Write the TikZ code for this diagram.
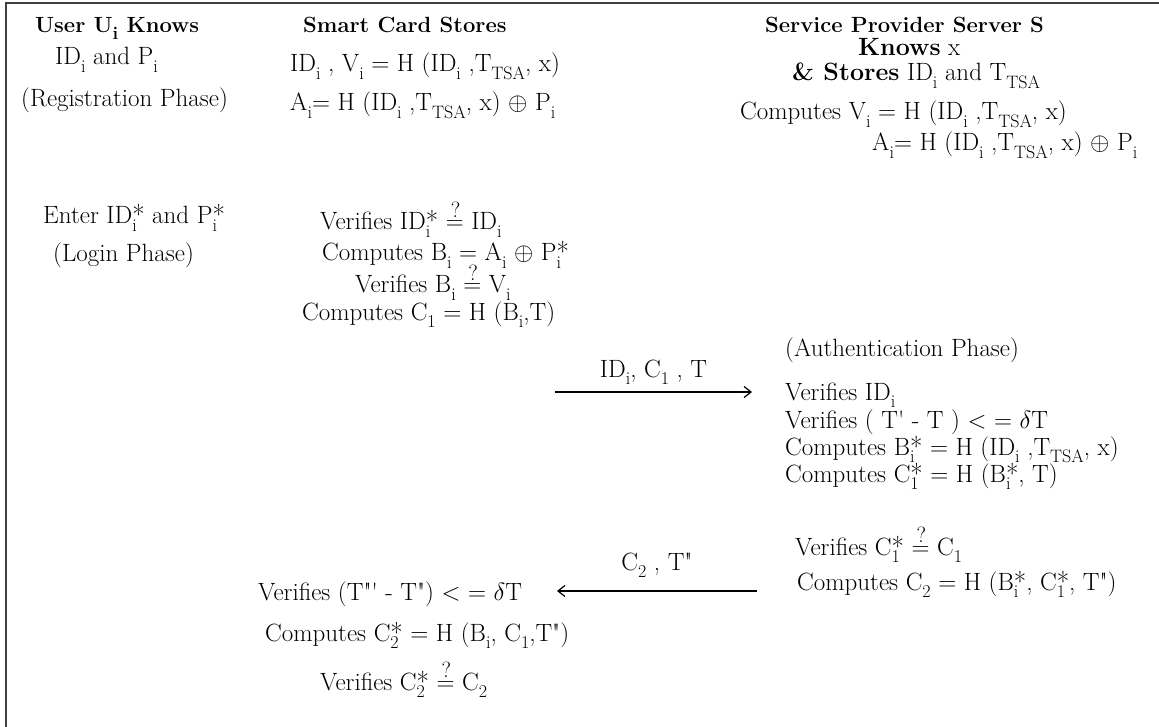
\documentclass[tikz,border=0pt]{standalone}
\usetikzlibrary{arrows.meta}
\newcommand{\sbx}[1]{\raisebox{-0.3em}{\fontsize{18}{18}\selectfont #1}}
\newcommand{\sbsp}[2]{\rlap{\raisebox{-0.3em}{\fontsize{18}{18}\selectfont #1}}\raisebox{-1pt}{\fontsize{27}{27}\selectfont #2}}
\newcommand{\qeq}{\rlap{\hbox to 0.778em{\hss\raisebox{0.5em}{\fontsize{22}{22}\selectfont ?}\hss}}$=$}
\newcommand{\pr}{\textquotesingle}
\newcommand{\dpr}{\textquotedbl}
\begin{document}
\begin{tikzpicture}[x=1pt,y=-1pt,
  txt/.style={inner sep=0pt,anchor=base west,font=\fontsize{25}{28}\selectfont},
  hd/.style={txt,font=\fontsize{22}{26}\selectfont\bfseries},
  msg/.style={line width=1.6pt,-{Straight Barb[length=7pt,width=11pt,line width=1.2pt]}},
  frame/.style={line width=2pt,draw=black!75}]
\useasboundingbox (0,0) rectangle (1159,727);
\draw[frame] (6,750) -- (6,3) -- (1170,3);
% User column
\node[hd] (u0) at (35,33) {User U\sbx{i} Knows};
\node[txt] (u1) at (55,65) {ID\sbx{i} and P\sbx{i}};
\node[txt] (u2) at (21,107) {(Registration Phase)};
\node[txt] (u3) at (43,224) {Enter ID\sbsp{i}{*} and P\sbsp{i}{*}};
\node[txt] (u4) at (53,262) {(Login Phase)};
% Smart card column
\node[hd] (s0) at (303,33) {Smart Card Stores};
\node[txt] (s1) at (290,72) {ID\sbx{i} , V\sbx{i} = H (ID\sbx{i} ,T\sbx{TSA}, x)};
\node[txt] (s2) at (290,111) {A\sbx{i}= H (ID\sbx{i} ,T\sbx{TSA}, x) $\oplus$ P\sbx{i}};
\node[txt] (s3) at (320,230) {Verifies ID\sbsp{i}{*} \qeq{} ID\sbx{i}};
\node[txt] (s4) at (322,261) {Computes B\sbx{i} = A\sbx{i} $\oplus$ P\sbsp{i}{*}};
\node[txt] (s5) at (355,293) {Verifies B\sbx{i} \qeq{} V\sbx{i}};
\node[txt] (s6) at (302,320) {Computes C\sbx{1} = H (B\sbx{i},T)};
% Server column
\node[hd] (v0) at (765,33) {Service Provider Server S};
\node[txt] (v1) at (858,56) {\textbf{Knows} x};
\node[txt] (v2) at (792,81) {\textbf{\& Stores} ID\sbx{i} and T\sbx{TSA}};
\node[txt] (v3) at (740,120) {Computes V\sbx{i} = H (ID\sbx{i} ,T\sbx{TSA}, x)};
\node[txt] (v4) at (872,151) {A\sbx{i}= H (ID\sbx{i} ,T\sbx{TSA}, x) $\oplus$ P\sbx{i}};
\node[txt] (a0) at (785,356) {(Authentication Phase)};
\node[txt] (a1) at (785,400) {Verifies ID\sbx{i}};
\node[txt] (a2) at (785,428) {Verifies ( T\pr{} - T ) $<$ = $\delta$T};
\node[txt] (a3) at (785,455) {Computes B\sbsp{i}{*} = H (ID\sbx{i} ,T\sbx{TSA}, x)};
\node[txt] (a4) at (785,482) {Computes C\sbsp{1}{*} = H (B\sbsp{i}{*}, T)};
\node[txt] (a5) at (795,555) {Verifies C\sbsp{1}{*} \qeq{} C\sbx{1}};
\node[txt] (a6) at (797,590) {Computes C\sbx{2} = H (B\sbsp{i}{*}, C\sbsp{1}{*}, T\dpr)};
% Bottom (smart card)
\node[txt] (b0) at (258,600) {Verifies (T\dpr\pr{} - T\dpr) $<$ = $\delta$T};
\node[txt] (b1) at (265,641) {Computes C\sbsp{2}{*} = H (B\sbx{i}, C\sbx{1},T\dpr)};
\node[txt] (b2) at (320,690) {Verifies C\sbsp{2}{*} \qeq{} C\sbx{2}};
% Messages
\coordinate (m1s) at (555,392);
\coordinate (m1e) at (752,392);
\draw[msg] (m1s) -- node[txt,anchor=base,yshift=15pt] (l1) {ID\sbx{i}, C\sbx{1} , T} (m1e);
\coordinate (m2s) at (757,591);
\coordinate (m2e) at (557,591);
\draw[msg] (m2s) -- node[txt,anchor=base,yshift=21pt] (l2) {C\sbx{2} , T\dpr} (m2e);
\end{tikzpicture}
\end{document}
